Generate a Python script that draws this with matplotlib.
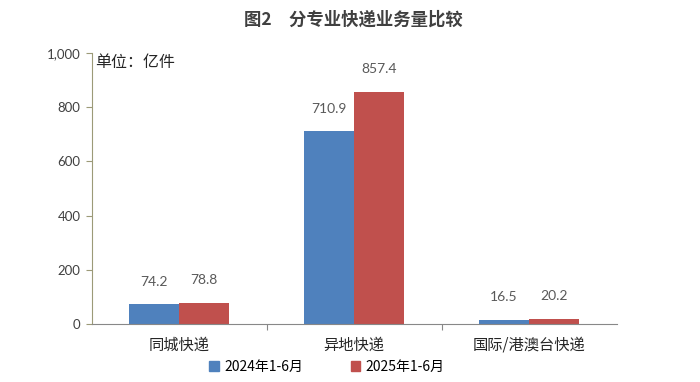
import numpy as np
import matplotlib
matplotlib.use("Agg")
import matplotlib.pyplot as plt
from matplotlib.patches import Patch

plt.rcParams['font.family'] = ['Noto Sans CJK SC', 'DejaVu Sans']

# ── data ──
categories = ["同城快递", "异地快递", "国际/港澳台快递"]
series_names = ["2024年1-6月", "2025年1-6月"]
values_2024 = [74.2, 710.9, 16.5]
values_2025 = [78.8, 857.4, 20.2]
y_ticks = [0, 200, 400, 600, 800, 1000]
y_tick_labels = ["0", "200", "400", "600", "800", "1,000"]

BLUE = "#4f81bd"
RED = "#c0504d"
AXIS_COL = "#9c9a78"
TEXT_COL = "#595959"
NUM_FONT = ["Lato", "DejaVu Sans"]

fig = plt.figure(figsize=(7.0, 3.82), dpi=100)
ax = fig.add_axes([91.5 / 700, 1 - 324 / 382, 525 / 700, 271 / 382])

x = np.arange(len(categories))
w = 0.285
b1 = ax.bar(x - w / 2, values_2024, w, color=BLUE, zorder=2)
b2 = ax.bar(x + w / 2, values_2025, w, color=RED, zorder=2)

for bars, vals in ((b1, values_2024), (b2, values_2025)):
    for rect, v in zip(bars, vals):
        ax.annotate(f"{v:.1f}", (rect.get_x() + rect.get_width() / 2, v),
                    xytext=(0, 16), textcoords="offset points",
                    ha="center", va="center", fontsize=10,
                    color=TEXT_COL, family=NUM_FONT)

ax.set_xlim(-0.5, len(categories) - 0.5)
ax.set_ylim(0, 1000)
ax.set_yticks(y_ticks)
ax.set_yticklabels(y_tick_labels, family=NUM_FONT, fontsize=9.5, color="#404040")

# category separators as ticks, labels at centres
ax.set_xticks([0.5, 1.5], minor=False)
ax.set_xticklabels([])
ax.set_xticks(x, minor=True)
ax.set_xticklabels(categories, minor=True, fontsize=11, color="#262626")
ax.tick_params(axis="x", which="minor", length=0, pad=9)
ax.tick_params(axis="x", which="major", length=4, color="#888888", direction="out")
ax.tick_params(axis="y", length=4, color=AXIS_COL, pad=4)

for side in ("top", "right"):
    ax.spines[side].set_visible(False)
ax.spines["left"].set_color(AXIS_COL)
ax.spines["bottom"].set_color("#888888")

fig.text(353 / 700, 1 - 20 / 382, "图2　分专业快递业务量比较", ha="center", va="center",
         fontsize=12.5, fontweight="bold", color="#404040")
fig.text(95 / 700, 1 - 62 / 382, "单位：亿件", ha="left", va="center",
         fontsize=11.5, color="#262626")

handles = [Patch(color=BLUE), Patch(color=RED)]
fig.legend(handles, series_names, loc="center", bbox_to_anchor=(327 / 700, 1 - 367 / 382),
           ncol=2, frameon=False, fontsize=10, handlelength=0.7, handleheight=0.7,
           handletextpad=0.4, columnspacing=3.4)

fig.savefig("out.png", dpi=100)
